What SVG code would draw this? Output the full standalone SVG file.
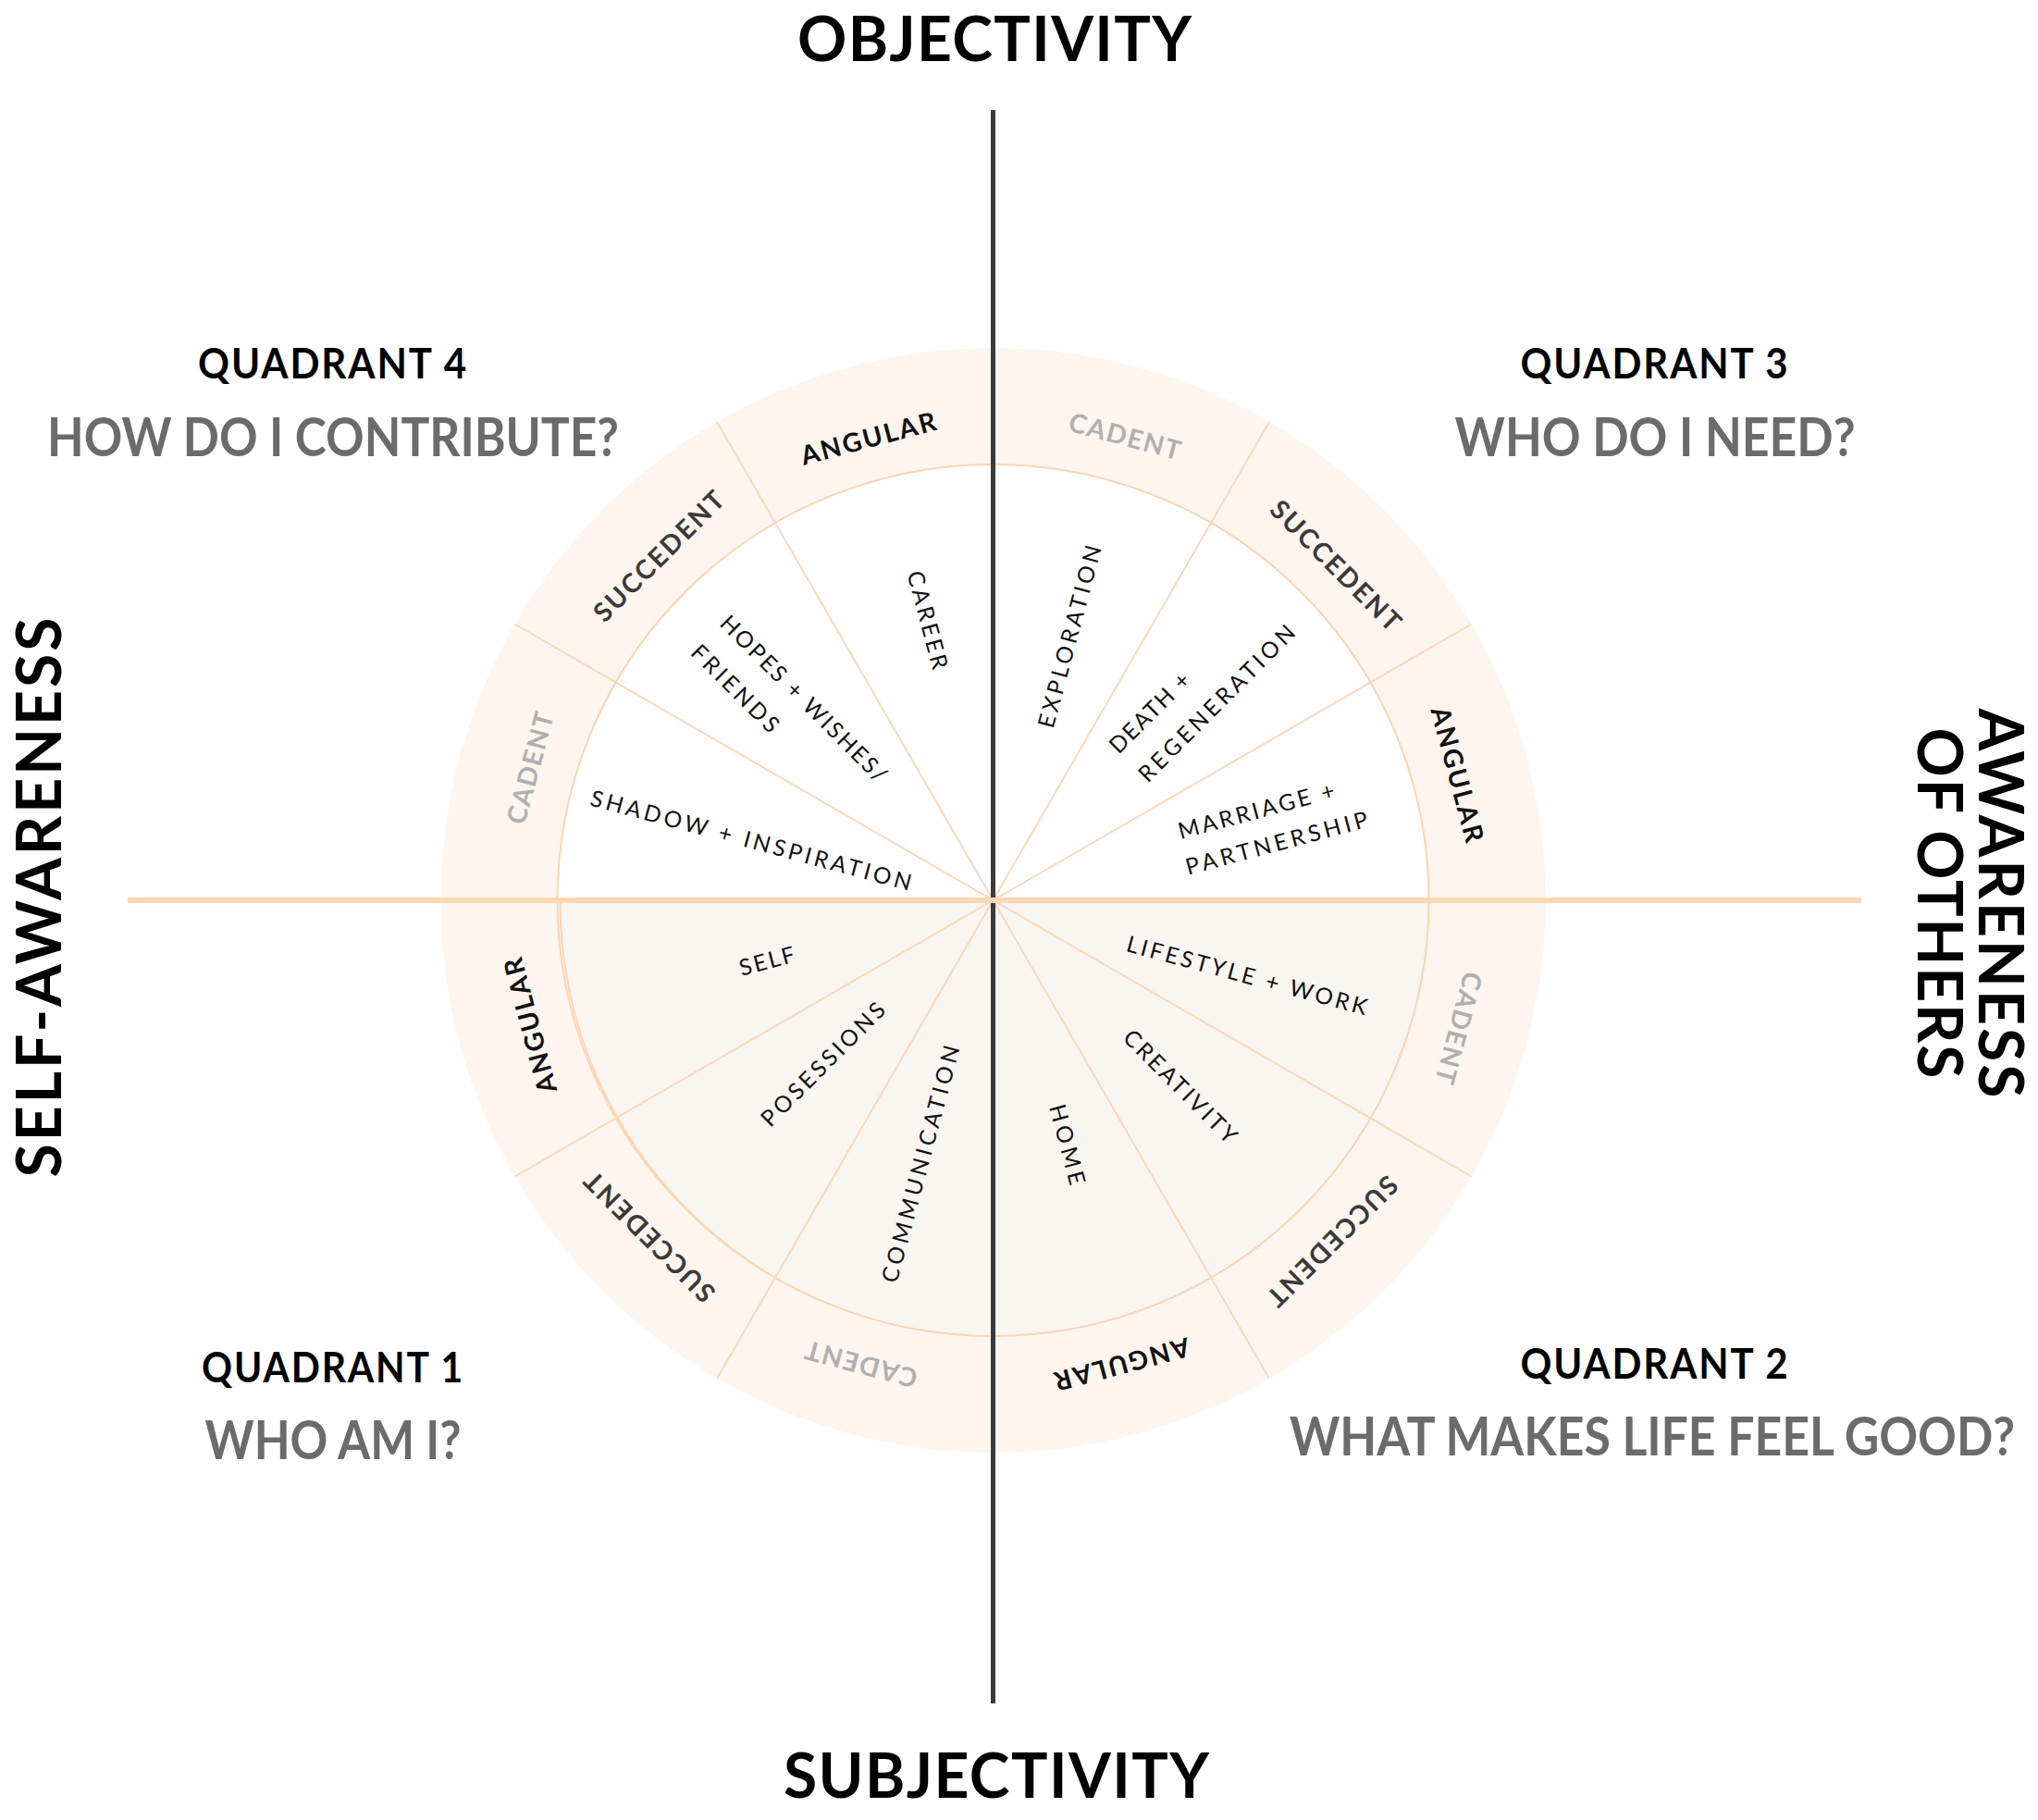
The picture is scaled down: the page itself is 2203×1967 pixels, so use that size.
<svg xmlns="http://www.w3.org/2000/svg" width="2203" height="1967" viewBox="0 0 2203 1967">
<style>
text{font-family:Lato,"Liberation Sans",sans-serif;text-anchor:middle}
.title{font-weight:700;font-size:66px;fill:#000}
.q{font-weight:700;font-size:45px;fill:#000;letter-spacing:2px}
.qq{font-weight:700;font-size:52px;fill:#6b6b6b}
.ring{font-weight:700;font-size:28.5px}
.ang{fill:#111}
.suc{fill:#3a3a3a}
.cad{fill:#b0b0b0}
.lbl{font-weight:400;font-size:24.5px;fill:#111}
.spoke{stroke:#fcd8ba;stroke-width:2;fill:none}
</style>
<rect width="2203" height="1967" fill="#fff"/>
<g id="wheel">
<circle cx="1073.5" cy="973" r="597" fill="#fdf5ee"/>
<circle cx="1073.5" cy="973" r="471" fill="#fff"/>
<path d="M602.5 973 A471 471 0 0 0 1544.5 973 Z" fill="#f9f5f1"/>
<circle cx="1073.5" cy="973" r="471" fill="none" stroke="#fcd5b4" stroke-width="2"/>
<path d="M605.5 974.7 A471 471 0 0 0 826.9 1374.1" fill="none" stroke="#fcd5b4" stroke-width="2"/>
<g class="spoke">
<line x1="1073.5" y1="973" x2="1590.5" y2="674.5"/>
<line x1="1073.5" y1="973" x2="1372" y2="456"/>
<line x1="1073.5" y1="973" x2="775" y2="456"/>
<line x1="1073.5" y1="973" x2="556.5" y2="674.5"/>
<line x1="1073.5" y1="973" x2="556.5" y2="1271.5"/>
<line x1="1073.5" y1="973" x2="775" y2="1490"/>
<line x1="1073.5" y1="973" x2="1372" y2="1490"/>
<line x1="1073.5" y1="973" x2="1590.5" y2="1271.5"/>
</g>
</g>
<g id="connectors">
<line x1="1073.5" y1="119" x2="1073.5" y2="1841" stroke="#3b3b3b" stroke-width="5"/>
<line x1="138" y1="973" x2="2012" y2="973" stroke="#fdd6b4" stroke-width="6"/>
</g>
<g id="ring-labels">
<g id="r-ang-tl"><text class="ring ang" transform="translate(938.5,473.7) rotate(-15)" dy="0.36em" textLength="150" lengthAdjust="spacing">ANGULAR</text></g>
<g id="r-suc-tl"><text class="ring suc" transform="translate(712,601) rotate(-45)" dy="0.36em" textLength="186" lengthAdjust="spacing">SUCCEDENT</text></g>
<g id="r-cad-tl"><text class="ring cad" transform="translate(573,830) rotate(-75)" dy="0.36em" textLength="124" lengthAdjust="spacing">CADENT</text></g>
<g id="r-cad-tr"><text class="ring cad" transform="translate(1216,471.4) rotate(15)" dy="0.36em" textLength="124" lengthAdjust="spacing">CADENT</text></g>
<g id="r-suc-tr"><text class="ring suc" transform="translate(1444,611) rotate(45)" dy="0.36em" textLength="186" lengthAdjust="spacing">SUCCEDENT</text></g>
<g id="r-ang-r"><text class="ring ang" transform="translate(1575.5,837) rotate(75)" dy="0.36em" textLength="150" lengthAdjust="spacing">ANGULAR</text></g>
<g id="r-cad-br"><text class="ring cad" transform="translate(1577,1111) rotate(105)" dy="0.36em" textLength="124" lengthAdjust="spacing">CADENT</text></g>
<g id="r-suc-br"><text class="ring suc" transform="translate(1440.5,1341.5) rotate(135)" dy="0.36em" textLength="186" lengthAdjust="spacing">SUCCEDENT</text></g>
<g id="r-ang-b"><text class="ring ang" transform="translate(1213,1474.5) rotate(165)" dy="0.36em" textLength="150" lengthAdjust="spacing">ANGULAR</text></g>
<g id="r-cad-bl"><text class="ring cad" transform="translate(931,1474.5) rotate(195)" dy="0.36em" textLength="124" lengthAdjust="spacing">CADENT</text></g>
<g id="r-suc-bl"><text class="ring suc" transform="translate(702,1337) rotate(225)" dy="0.36em" textLength="186" lengthAdjust="spacing">SUCCEDENT</text></g>
<g id="r-ang-l"><text class="ring ang" transform="translate(573,1108.5) rotate(255)" dy="0.36em" textLength="150" lengthAdjust="spacing">ANGULAR</text></g>
</g>
<g id="house-labels">
<g id="h-career"><text class="lbl" transform="translate(1003,670) rotate(75)" dy="0.36em" textLength="109" lengthAdjust="spacing">CAREER</text></g>
<g id="h-hopes"><text class="lbl" transform="translate(869,755) rotate(45)" dy="0.36em" textLength="243" lengthAdjust="spacing">HOPES + WISHES/</text><text class="lbl" transform="translate(795,744) rotate(45)" dy="0.36em" textLength="123" lengthAdjust="spacing">FRIENDS</text></g>
<g id="h-shadow"><text class="lbl" transform="translate(812,908) rotate(15)" dy="0.36em" textLength="358" lengthAdjust="spacing">SHADOW + INSPIRATION</text></g>
<g id="h-exploration"><text class="lbl" transform="translate(1156,688) rotate(-75)" dy="0.36em" textLength="203" lengthAdjust="spacing">EXPLORATION</text></g>
<g id="h-death"><text class="lbl" transform="translate(1242.5,770) rotate(-45)" dy="0.36em" textLength="112" lengthAdjust="spacing">DEATH +</text><text class="lbl" transform="translate(1315,760) rotate(-45)" dy="0.36em" textLength="228" lengthAdjust="spacing">REGENERATION</text></g>
<g id="h-marriage"><text class="lbl" transform="translate(1358,876) rotate(-15)" dy="0.36em" textLength="174" lengthAdjust="spacing">MARRIAGE +</text><text class="lbl" transform="translate(1380,911) rotate(-15)" dy="0.36em" textLength="203" lengthAdjust="spacing">PARTNERSHIP</text></g>
<g id="h-lifestyle"><text class="lbl" transform="translate(1348,1054) rotate(15)" dy="0.36em" textLength="268" lengthAdjust="spacing">LIFESTYLE + WORK</text></g>
<g id="h-creativity"><text class="lbl" transform="translate(1276,1174) rotate(45)" dy="0.36em" textLength="162" lengthAdjust="spacing">CREATIVITY</text></g>
<g id="h-home"><text class="lbl" transform="translate(1154,1237) rotate(75)" dy="0.36em" textLength="89" lengthAdjust="spacing">HOME</text></g>
<g id="h-communication"><text class="lbl" transform="translate(995,1258) rotate(-75)" dy="0.36em" textLength="264" lengthAdjust="spacing">COMMUNICATION</text></g>
<g id="h-posessions"><text class="lbl" transform="translate(889.5,1150) rotate(-45)" dy="0.36em" textLength="178" lengthAdjust="spacing">POSESSIONS</text></g>
<g id="h-self"><text class="lbl" transform="translate(829,1038.5) rotate(-15)" dy="0.36em" textLength="61" lengthAdjust="spacing">SELF</text></g>
</g>
<g id="axis-titles">
<g id="t-objectivity"><text class="title" x="1075" y="66" textLength="426" lengthAdjust="spacing">OBJECTIVITY</text></g>
<g id="t-subjectivity"><text class="title" x="1077" y="1943" textLength="460" lengthAdjust="spacing">SUBJECTIVITY</text></g>
<g id="t-self"><text class="title" transform="translate(66,970) rotate(-90)" textLength="605" lengthAdjust="spacing">SELF-AWARENESS</text></g>
<g id="t-others"><text class="title" transform="translate(2139,976) rotate(90)" textLength="421" lengthAdjust="spacing">AWARENESS</text><text class="title" transform="translate(2073,976) rotate(90)" textLength="379" lengthAdjust="spacing">OF OTHERS</text></g>
</g>
<g id="quadrant-4"><text class="q" x="360" y="409" textLength="292" lengthAdjust="spacingAndGlyphs">QUADRANT 4</text><text class="qq" transform="translate(360,493) scale(1,1.12)" textLength="618" lengthAdjust="spacingAndGlyphs">HOW DO I CONTRIBUTE?</text></g>
<g id="quadrant-3"><text class="q" x="1789" y="409" textLength="291" lengthAdjust="spacingAndGlyphs">QUADRANT 3</text><text class="qq" transform="translate(1789,493) scale(1,1.12)" textLength="433" lengthAdjust="spacingAndGlyphs">WHO DO I NEED?</text></g>
<g id="quadrant-1"><text class="q" x="360" y="1494" textLength="284" lengthAdjust="spacingAndGlyphs">QUADRANT 1</text><text class="qq" transform="translate(360,1577) scale(1,1.12)" textLength="277" lengthAdjust="spacingAndGlyphs">WHO AM I?</text></g>
<g id="quadrant-2"><text class="q" x="1789" y="1490" textLength="291" lengthAdjust="spacingAndGlyphs">QUADRANT 2</text><text class="qq" transform="translate(1786,1573) scale(1,1.12)" textLength="784" lengthAdjust="spacingAndGlyphs">WHAT MAKES LIFE FEEL GOOD?</text></g>
</svg>
